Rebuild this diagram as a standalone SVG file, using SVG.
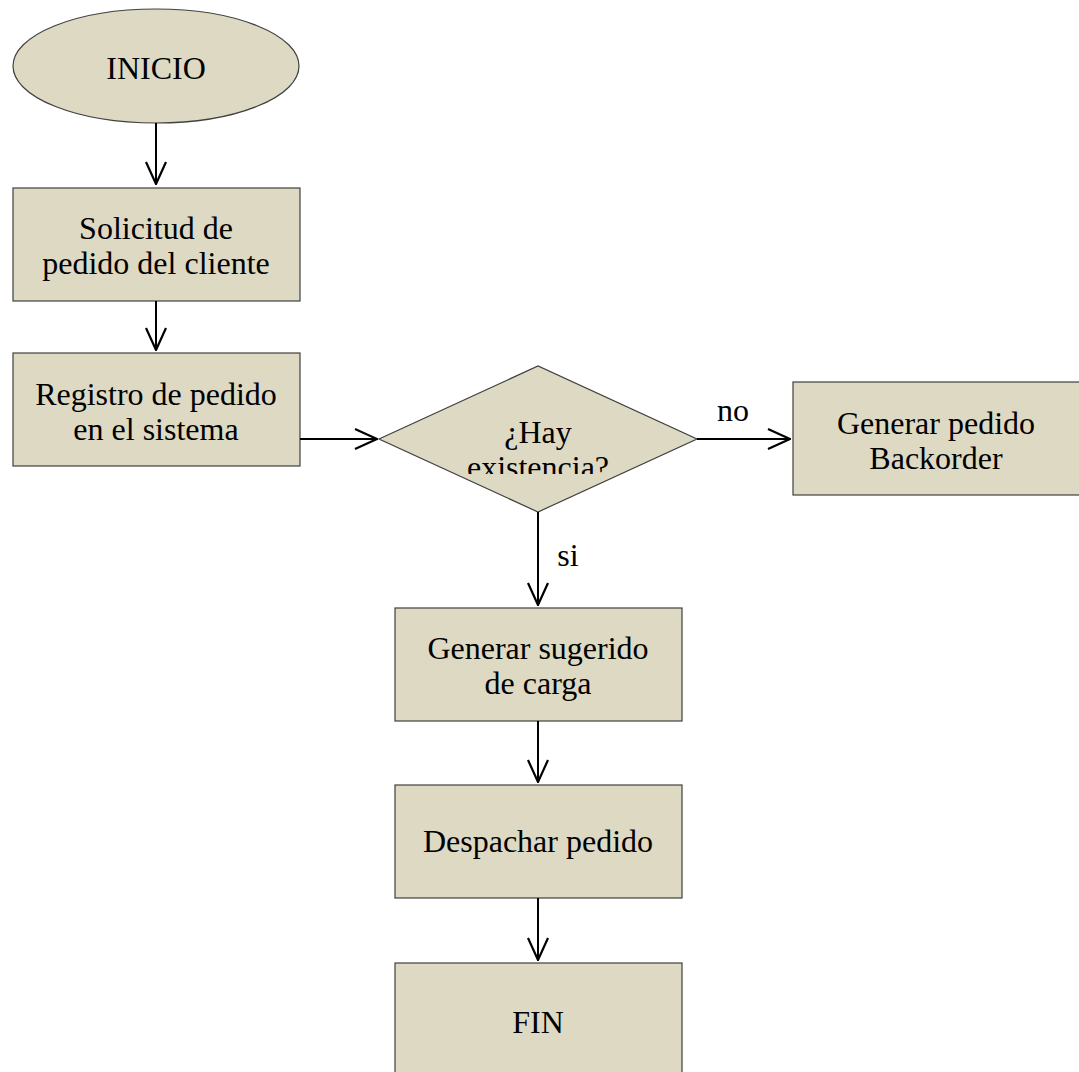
<svg xmlns="http://www.w3.org/2000/svg" width="1079" height="1072" viewBox="0 0 1079 1072">
<style>
.n{fill:#DDD9C3;stroke:#404040;stroke-width:1.2}
.t{font-family:"Liberation Serif","Times New Roman",serif;font-size:32px;fill:#000;text-anchor:middle}
.c{stroke:#000;stroke-width:2;fill:none}
</style>
<defs>
<marker id="a" viewBox="0 0 24 24" refX="23" refY="12" markerWidth="24" markerHeight="24" markerUnits="userSpaceOnUse" orient="auto">
<path d="M1,2 L23,12 L1,22" fill="none" stroke="#000" stroke-width="2.2"/>
</marker>
<clipPath id="dc"><rect x="379" y="360" width="320" height="114"/></clipPath>
</defs>
<rect width="1079" height="1072" fill="#fff"/>
<g id="inicio"><ellipse class="n" cx="156" cy="66" rx="143" ry="57"/><text class="t" x="156" y="79">INICIO</text></g>
<g id="solicitud"><rect class="n" x="13" y="188" width="287" height="113"/><text class="t" x="156" y="239">Solicitud de</text><text class="t" x="156" y="274">pedido del cliente</text></g>
<g id="registro"><rect class="n" x="13" y="353" width="287" height="113"/><text class="t" x="156" y="405">Registro de pedido</text><text class="t" x="156" y="440">en el sistema</text></g>
<g id="decision"><polygon class="n" points="379,439 538,366 697,439 538,512"/><g clip-path="url(#dc)"><text class="t" x="538" y="443">¿Hay</text><text class="t" x="538" y="478">existencia?</text></g></g>
<g id="backorder"><rect class="n" x="793" y="382" width="300" height="113"/><text class="t" x="936" y="434">Generar pedido</text><text class="t" x="936" y="469">Backorder</text></g>
<g id="sugerido"><rect class="n" x="395" y="608" width="287" height="113"/><text class="t" x="538" y="659">Generar sugerido</text><text class="t" x="538" y="694">de carga</text></g>
<g id="despachar"><rect class="n" x="395" y="785" width="287" height="113"/><text class="t" x="538" y="852">Despachar pedido</text></g>
<g id="fin"><rect class="n" x="395" y="963" width="287" height="120"/><text class="t" x="538" y="1033">FIN</text></g>
<g id="connectors">
<line class="c" x1="156" y1="123" x2="156" y2="184" marker-end="url(#a)"/>
<line class="c" x1="156" y1="301" x2="156" y2="350" marker-end="url(#a)"/>
<line class="c" x1="300" y1="439" x2="377" y2="439" marker-end="url(#a)"/>
<line class="c" x1="697" y1="439" x2="790" y2="439" marker-end="url(#a)"/>
<line class="c" x1="538" y1="512" x2="538" y2="605" marker-end="url(#a)"/>
<line class="c" x1="538" y1="721" x2="538" y2="782" marker-end="url(#a)"/>
<line class="c" x1="538" y1="898" x2="538" y2="960" marker-end="url(#a)"/>
<text class="t" x="733" y="421">no</text>
<text class="t" x="568" y="566">si</text>
</g>
</svg>
